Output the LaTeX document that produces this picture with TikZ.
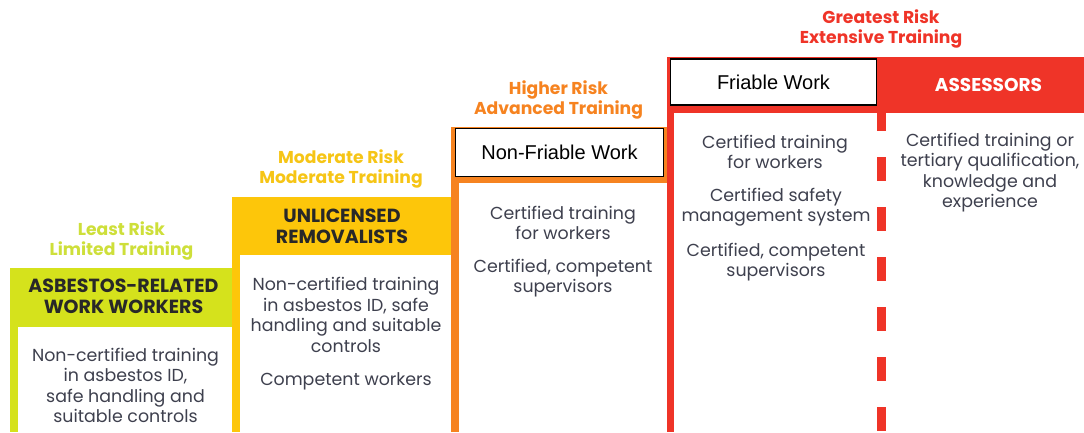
\documentclass[tikz,border=0pt]{standalone}
\usepackage{fontspec}
\setmainfont{Poppins}
\newfontfamily\arialfont{Liberation Sans}
\definecolor{limefill}{RGB}{213,226,28}
\definecolor{limetext}{RGB}{206,223,58}
\definecolor{yellowfill}{RGB}{253,198,10}
\definecolor{yellowtext}{RGB}{246,197,22}
\definecolor{orangefill}{RGB}{246,131,32}
\definecolor{redfill}{RGB}{239,52,40}
\definecolor{bodygray}{RGB}{62,64,78}
\definecolor{headdark}{RGB}{40,40,40}

\begin{document}
\begin{tikzpicture}[x=1pt, y=-1pt,
    risklabel/.style={align=center, inner sep=0, font=\fontsize{17.2}{20}\selectfont\bfseries},
    headlabel/.style={align=center, inner sep=0, text=headdark, font=\fontsize{19}{21}\selectfont\bfseries},
    bodytext/.style={align=center, inner sep=0, text=bodygray, font=\fontsize{17.4}{20.5}\selectfont},
    workbox/.style={draw=black, line width=1.6, fill=white, inner sep=0, font=\arialfont\fontsize{20}{22}\selectfont},
    divider/.style={draw=redfill, line width=9, dash pattern=on 24 off 26}]
    \useasboundingbox (0,0) rectangle (1084,432);

    % coloured steps
    \fill[limefill] (10,268) rectangle (232,432);
    \fill[white] (18,327) rectangle (232,432);
    \fill[yellowfill] (232,197) rectangle (451,432);
    \fill[white] (240,255) rectangle (451,432);
    \fill[orangefill] (451,127) rectangle (667,432);
    \fill[white] (459,183) rectangle (667,432);
    \fill[redfill] (667,57) rectangle (1084,432);
    \fill[white] (674,113) rectangle (1084,432);

    \node[risklabel, text=limetext] (leastlbl) at (121.5,241) {Least Risk\\Limited Training};
    \node[headlabel] (leasthead) at (123.5,296.5) {ASBESTOS-RELATED\\WORK WORKERS};
    \node[bodytext] (leastbody) at (125.5,385.5) {Non-certified training\\in asbestos ID,\\safe handling and\\suitable controls};

    \node[risklabel, text=yellowtext] (modlbl) at (341,169) {Moderate Risk\\Moderate Training};
    \node[headlabel] (modhead) at (342,226) {UNLICENSED\\REMOVALISTS};
    \node[bodytext] (modbodyA) at (346,315) {Non-certified training\\in asbestos ID, safe\\handling and suitable\\controls};
    \node[bodytext] (modbodyB) at (346,381) {Competent workers};

    \node[risklabel, text=orangefill] (higherlbl) at (558.5,100) {Higher Risk\\Advanced Training};
    \node[workbox, minimum width=208, minimum height=48] (nonfriable) at (559.5,152.5) {Non-Friable Work};
    \node[bodytext] (higherbodyA) at (563,223) {Certified training\\for workers};
    \node[bodytext] (higherbodyB) at (563,278) {Certified, competent\\supervisors};

    \node[risklabel, text=redfill] (greatestlbl) at (881,29) {Greatest Risk\\Extensive Training};
    \node[workbox, minimum width=206, minimum height=46] (friable) at (773.5,82) {Friable Work};
    \node[headlabel, text=white, font=\fontsize{18.5}{21}\selectfont\bfseries] (assessors) at (988.5,85) {ASSESSORS};
    \node[bodytext] (friablebodyA) at (775,152) {Certified training\\for workers};
    \node[bodytext] (friablebodyB) at (776,207) {Certified safety\\management system};
    \node[bodytext] (friablebodyC) at (776,262) {Certified, competent\\supervisors};
    \node[bodytext] (assessorbody) at (990,172.5) {Certified training or\\tertiary qualification,\\knowledge and\\experience};

    \coordinate (divtop) at (881.5,107);
    \coordinate (divbot) at (881.5,432);
    \draw[divider] (divtop) -- (divbot);
\end{tikzpicture}
\end{document}
